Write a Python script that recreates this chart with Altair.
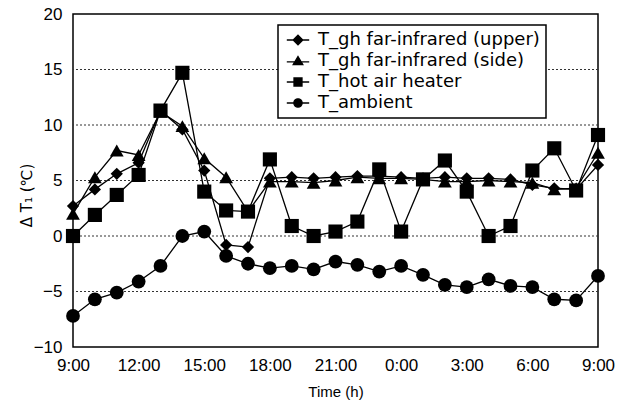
import altair as alt
import pandas as pd

hours = list(range(25))
series_names = ["T_gh far-infrared (upper)", "T_gh far-infrared (side)", "T_hot air heater", "T_ambient"]

upper = [2.7, 4.2, 5.6, 6.6, 11.3, 9.6, 5.9, -0.8, -1.0, 5.2, 5.3, 5.2, 5.3, 5.4, 5.4, 5.3, 5.2, 5.3, 5.2, 5.2, 5.1, 4.6, 4.3, 4.2, 6.4]
side = [2.0, 5.3, 7.7, 7.3, 11.2, 9.9, 7.0, 5.3, 2.2, 4.9, 4.9, 4.8, 5.0, 5.3, 5.2, 5.2, 5.1, 4.9, 4.9, 5.0, 4.9, 4.8, 4.2, 4.3, 7.5]
heater = [0.0, 1.9, 3.7, 5.5, 11.3, 14.7, 4.0, 2.3, 2.2, 6.9, 0.9, 0.0, 0.4, 1.3, 6.0, 0.4, 5.1, 6.8, 4.0, 0.0, 0.9, 5.9, 7.9, 4.1, 9.1]
ambient = [-7.2, -5.7, -5.1, -4.1, -2.7, 0.0, 0.4, -1.8, -2.5, -2.9, -2.7, -3.0, -2.3, -2.6, -3.2, -2.7, -3.5, -4.4, -4.6, -3.9, -4.5, -4.6, -5.7, -5.8, -3.6]

y_ticks = [-10, -5, 0, 5, 10, 15, 20]
grid_ticks = [-5, 0, 5, 10, 15]
x_ticks = [0, 3, 6, 9, 12, 15, 18, 21, 24]

rows = []
for name, vals in zip(series_names, [upper, side, heater, ambient]):
    for h, v in zip(hours, vals):
        rows.append({"hour": h, "value": v, "series": name})
df = pd.DataFrame(rows)

x_enc = alt.X("hour:Q", scale=alt.Scale(domain=[0, 24], nice=False),
              axis=alt.Axis(values=x_ticks, labelExpr="((datum.value + 9) % 24) + ':00'",
                            title="Time (h)", titleFont="Liberation Sans", titleFontSize=15,
                            titleFontWeight="normal", titleColor="black", titleY=44,
                            titleBaseline="middle",
                            labelFont="Liberation Sans", labelFontSize=17, labelColor="black",
                            labelPadding=10, ticks=False, domain=False, grid=False, labelFlush=False))
y_enc = alt.Y("value:Q", scale=alt.Scale(domain=[-10, 20], nice=False),
              axis=alt.Axis(values=y_ticks, title="Δ T₁ (℃)", titleFont="DejaVu Sans",
                            titleFontSize=15, titleFontWeight="normal", titleColor="black",
                            titleX=-47, titleY=181, titleAngle=270, titleAlign="center",
                            titleBaseline="middle",
                            labelFont="Liberation Sans", labelFontSize=17, labelColor="black",
                            labelPadding=11, ticks=False, domain=False, grid=False))

base = alt.Chart(df)

grid = alt.Chart(pd.DataFrame({"g": grid_ticks})).mark_rule(
    color="#333", strokeDash=[2, 2], strokeWidth=1).encode(y=alt.Y("g:Q"))

lines = base.mark_line(color="black", strokeWidth=1.3).encode(
    x=x_enc, y=y_enc, detail="series:N", order="hour:Q")

marker_shapes = ["diamond", "triangle-up", "square", "circle"]
marker_sizes = [150, 190, 200, 190]
point_layers = []
for name, shp, sz in zip(series_names, marker_shapes, marker_sizes):
    point_layers.append(
        base.transform_filter(alt.datum.series == name).mark_point(
            filled=True, color="black", opacity=1, shape=shp, size=sz).encode(
            x="hour:Q", y="value:Q"))

legend_paths = [
    "M-1.4,0L1.4,0M0,-0.6L0.6,0L0,0.6L-0.6,0Z",
    "M-1.4,0.1L1.4,0.1M0,-0.55L0.6,0.45L-0.6,0.45Z",
    "M-1.4,0L1.4,0M-0.5,-0.5L0.5,-0.5L0.5,0.5L-0.5,0.5Z",
    "M-1.4,0L1.4,0M0.52,0A0.52,0.52,0,1,1,-0.52,0A0.52,0.52,0,1,1,0.52,0Z",
]
legend_layer = base.transform_filter("false").mark_point(
    filled=False, color="black", fill="black", stroke="black", strokeWidth=1.3,
    fillOpacity=1, strokeOpacity=1).encode(
    x="hour:Q", y="value:Q",
    shape=alt.Shape("series:N", scale=alt.Scale(domain=series_names, range=legend_paths),
                    legend=alt.Legend(title=None, orient="none", legendX=205, legendY=11)),
)

chart = alt.layer(grid, lines, *point_layers, legend_layer).properties(
    width=525, height=333,
    autosize="none",
    background="white",
    padding={"left": 73, "top": 14, "right": 29, "bottom": 63},
).configure_view(stroke="black", strokeWidth=1.5).configure_legend(
    strokeColor="black", strokeWidth=1.5, fillColor="white", padding=6,
    symbolOffset=5, symbolSize=256, symbolStrokeWidth=1.3,
    symbolOpacity=1, labelFont="DejaVu Sans", labelFontSize=18,
    labelColor="black", labelOffset=11, rowPadding=3, labelLimit=400,
)

chart.save("out.html", embed_options={"renderer": "svg", "actions": False})
